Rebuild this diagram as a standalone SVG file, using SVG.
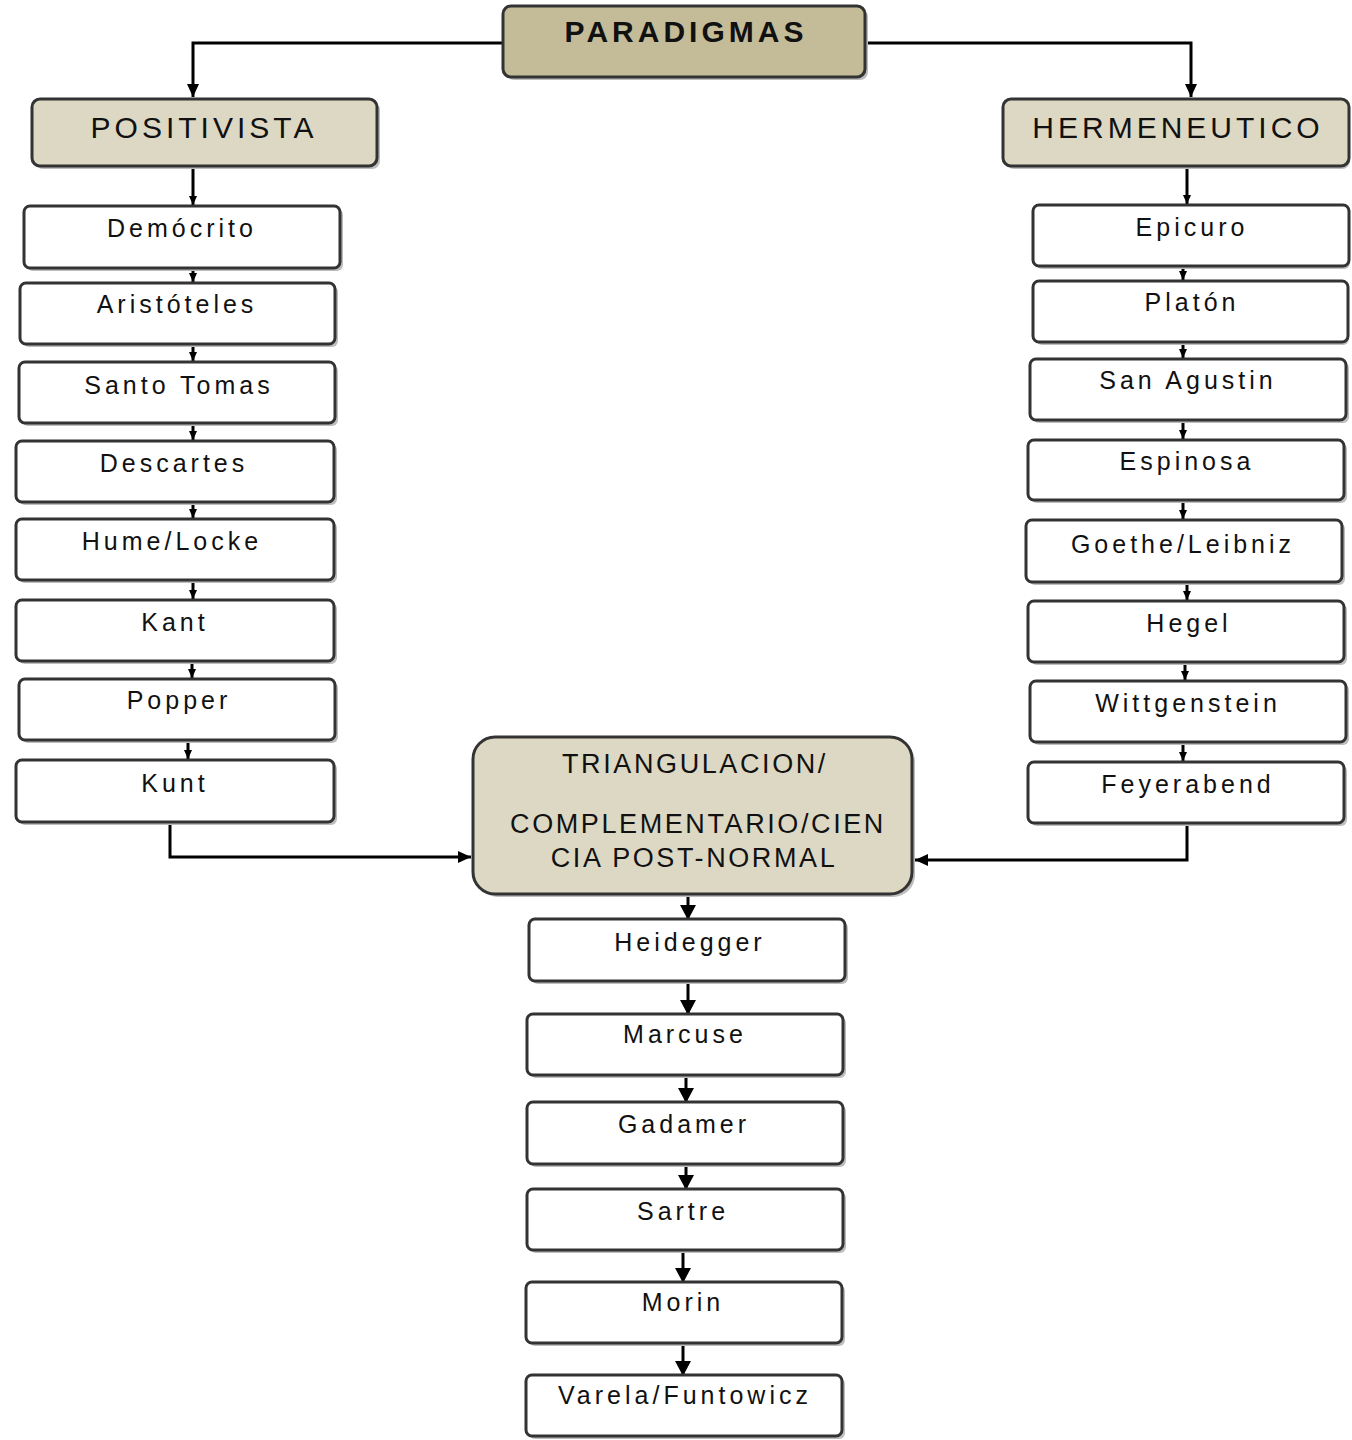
<svg xmlns="http://www.w3.org/2000/svg" width="1352" height="1440" viewBox="0 0 1352 1440">
<style>
.box{fill:#ffffff;stroke:#333;stroke-width:3}
.hdr{fill:#dcd8c3;stroke:#333;stroke-width:3}
.top{fill:#c4bc98;stroke:#333;stroke-width:3}
.sh{fill:#bdbdbd}
.t{font-family:"Liberation Sans",Arial,sans-serif;font-size:25px;letter-spacing:4px;fill:#111;text-anchor:middle}
.h{font-family:"Liberation Sans",Arial,sans-serif;font-size:30px;letter-spacing:4px;fill:#111;text-anchor:middle}
.c{font-family:"Liberation Sans",Arial,sans-serif;font-size:27px;letter-spacing:2.6px;fill:#111;text-anchor:middle}
.p{font-family:"Liberation Sans",Arial,sans-serif;font-size:30px;font-weight:bold;letter-spacing:4px;fill:#111;text-anchor:middle}
.ln{fill:none;stroke:#000;stroke-width:3}
</style>
<defs>
<marker id="as" markerUnits="userSpaceOnUse" markerWidth="10" markerHeight="10" refX="9" refY="5" orient="auto"><path d="M0,1 L9,5 L0,9 z" fill="#000"/></marker>
<marker id="am" markerUnits="userSpaceOnUse" markerWidth="14" markerHeight="14" refX="13" refY="7" orient="auto"><path d="M0,1 L13,7 L0,13 z" fill="#000"/></marker>
<marker id="al" markerUnits="userSpaceOnUse" markerWidth="16" markerHeight="18" refX="15" refY="9" orient="auto"><path d="M0,1 L15,9 L0,17 z" fill="#000"/></marker>
</defs>

<g id="connectors">
<path class="ln" d="M503,43 H193 V97" marker-end="url(#am)"/>
<path class="ln" d="M865,43 H1191 V97" marker-end="url(#am)"/>
<path class="ln" d="M193,166 V205" marker-end="url(#as)"/>
<path class="ln" d="M193,268 V282" marker-end="url(#as)"/>
<path class="ln" d="M193,344 V361" marker-end="url(#as)"/>
<path class="ln" d="M193,423 V440" marker-end="url(#as)"/>
<path class="ln" d="M193,502 V518" marker-end="url(#as)"/>
<path class="ln" d="M193,580 V599" marker-end="url(#as)"/>
<path class="ln" d="M192,661 V678" marker-end="url(#as)"/>
<path class="ln" d="M188,740 V759" marker-end="url(#as)"/>
<path class="ln" d="M1187,166 V204" marker-end="url(#as)"/>
<path class="ln" d="M1183,266 V280" marker-end="url(#as)"/>
<path class="ln" d="M1183,342 V358" marker-end="url(#as)"/>
<path class="ln" d="M1183,420 V439" marker-end="url(#as)"/>
<path class="ln" d="M1183,500 V519" marker-end="url(#as)"/>
<path class="ln" d="M1187,582 V600" marker-end="url(#as)"/>
<path class="ln" d="M1185,662 V680" marker-end="url(#as)"/>
<path class="ln" d="M1183,742 V761" marker-end="url(#as)"/>
<path class="ln" d="M170,822 V857 H471" marker-end="url(#am)"/>
<path class="ln" d="M1187,823 V860 H915" marker-end="url(#am)"/>
<path class="ln" d="M688,894 V920" marker-end="url(#al)"/>
<path class="ln" d="M688,981 V1015" marker-end="url(#al)"/>
<path class="ln" d="M686,1075 V1103" marker-end="url(#al)"/>
<path class="ln" d="M686,1164 V1190" marker-end="url(#al)"/>
<path class="ln" d="M683,1250 V1283" marker-end="url(#al)"/>
<path class="ln" d="M683,1343 V1376" marker-end="url(#al)"/>
</g>

<g id="paradigmas"><rect class="sh" x="506" y="9" width="362" height="71" rx="8"/><rect class="top" x="503" y="6" width="362" height="71" rx="8"/><text class="p" x="686" y="42">PARADIGMAS</text></g>
<g id="positivista"><rect class="sh" x="35" y="102" width="345" height="67" rx="8"/><rect class="hdr" x="32" y="99" width="345" height="67" rx="8"/><text class="h" x="204" y="138">POSITIVISTA</text></g>
<g id="hermeneutico"><rect class="sh" x="1006" y="102" width="344" height="67" rx="8"/><rect class="hdr" x="1003" y="99" width="346" height="67" rx="8"/><text class="h" x="1178" y="138">HERMENEUTICO</text></g>

<g id="democrito"><rect class="sh" x="27" y="209" width="316" height="62" rx="6"/><rect class="box" x="24" y="206" width="316" height="62" rx="6"/><text class="t" x="182" y="237">Demócrito</text></g>
<g id="aristoteles"><rect class="sh" x="23" y="286" width="315" height="61" rx="6"/><rect class="box" x="20" y="283" width="315" height="61" rx="6"/><text class="t" x="177" y="313">Aristóteles</text></g>
<g id="santotomas"><rect class="sh" x="22" y="365" width="316" height="61" rx="6"/><rect class="box" x="19" y="362" width="316" height="61" rx="6"/><text class="t" x="179" y="394">Santo Tomas</text></g>
<g id="descartes"><rect class="sh" x="19" y="444" width="318" height="61" rx="6"/><rect class="box" x="16" y="441" width="318" height="61" rx="6"/><text class="t" x="174" y="472">Descartes</text></g>
<g id="humelocke"><rect class="sh" x="19" y="522" width="318" height="61" rx="6"/><rect class="box" x="16" y="519" width="318" height="61" rx="6"/><text class="t" x="172" y="550">Hume/Locke</text></g>
<g id="kant"><rect class="sh" x="19" y="603" width="318" height="61" rx="6"/><rect class="box" x="16" y="600" width="318" height="61" rx="6"/><text class="t" x="175" y="631">Kant</text></g>
<g id="popper"><rect class="sh" x="22" y="682" width="316" height="61" rx="6"/><rect class="box" x="19" y="679" width="316" height="61" rx="6"/><text class="t" x="179" y="709">Popper</text></g>
<g id="kunt"><rect class="sh" x="19" y="763" width="318" height="62" rx="6"/><rect class="box" x="16" y="760" width="318" height="62" rx="6"/><text class="t" x="175" y="792">Kunt</text></g>

<g id="epicuro"><rect class="sh" x="1036" y="208" width="314" height="61" rx="6"/><rect class="box" x="1033" y="205" width="316" height="61" rx="6"/><text class="t" x="1192" y="236">Epicuro</text></g>
<g id="platon"><rect class="sh" x="1036" y="284" width="313" height="61" rx="6"/><rect class="box" x="1033" y="281" width="315" height="61" rx="6"/><text class="t" x="1192" y="311">Platón</text></g>
<g id="sanagustin"><rect class="sh" x="1033" y="362" width="316" height="61" rx="6"/><rect class="box" x="1030" y="359" width="316" height="61" rx="6"/><text class="t" x="1188" y="389">San Agustin</text></g>
<g id="espinosa"><rect class="sh" x="1031" y="443" width="316" height="60" rx="6"/><rect class="box" x="1028" y="440" width="316" height="60" rx="6"/><text class="t" x="1187" y="470">Espinosa</text></g>
<g id="goetheleibniz"><rect class="sh" x="1029" y="523" width="316" height="62" rx="6"/><rect class="box" x="1026" y="520" width="316" height="62" rx="6"/><text class="t" x="1183" y="553">Goethe/Leibniz</text></g>
<g id="hegel"><rect class="sh" x="1031" y="604" width="316" height="61" rx="6"/><rect class="box" x="1028" y="601" width="316" height="61" rx="6"/><text class="t" x="1189" y="632">Hegel</text></g>
<g id="wittgenstein"><rect class="sh" x="1033" y="684" width="316" height="61" rx="6"/><rect class="box" x="1030" y="681" width="316" height="61" rx="6"/><text class="t" x="1188" y="712">Wittgenstein</text></g>
<g id="feyerabend"><rect class="sh" x="1031" y="765" width="316" height="61" rx="6"/><rect class="box" x="1028" y="762" width="316" height="61" rx="6"/><text class="t" x="1188" y="793">Feyerabend</text></g>

<g id="triangulacion"><rect class="sh" x="476" y="740" width="439" height="157" rx="22"/><rect class="hdr" x="473" y="737" width="439" height="157" rx="22"/>
<text class="c" x="695" y="773">TRIANGULACION/</text>
<text class="c" x="698" y="833">COMPLEMENTARIO/CIEN</text>
<text class="c" x="694" y="867">CIA POST-NORMAL</text></g>

<g id="heidegger"><rect class="sh" x="532" y="922" width="316" height="62" rx="6"/><rect class="box" x="529" y="919" width="316" height="62" rx="6"/><text class="t" x="690" y="951">Heidegger</text></g>
<g id="marcuse"><rect class="sh" x="530" y="1017" width="316" height="61" rx="6"/><rect class="box" x="527" y="1014" width="316" height="61" rx="6"/><text class="t" x="685" y="1043">Marcuse</text></g>
<g id="gadamer"><rect class="sh" x="530" y="1105" width="316" height="62" rx="6"/><rect class="box" x="527" y="1102" width="316" height="62" rx="6"/><text class="t" x="684" y="1133">Gadamer</text></g>
<g id="sartre"><rect class="sh" x="530" y="1192" width="316" height="61" rx="6"/><rect class="box" x="527" y="1189" width="316" height="61" rx="6"/><text class="t" x="683" y="1220">Sartre</text></g>
<g id="morin"><rect class="sh" x="529" y="1285" width="316" height="61" rx="6"/><rect class="box" x="526" y="1282" width="316" height="61" rx="6"/><text class="t" x="683" y="1311">Morin</text></g>
<g id="varela"><rect class="sh" x="529" y="1378" width="316" height="61" rx="6"/><rect class="box" x="526" y="1375" width="316" height="61" rx="6"/><text class="t" x="685" y="1404">Varela/Funtowicz</text></g>
</svg>
